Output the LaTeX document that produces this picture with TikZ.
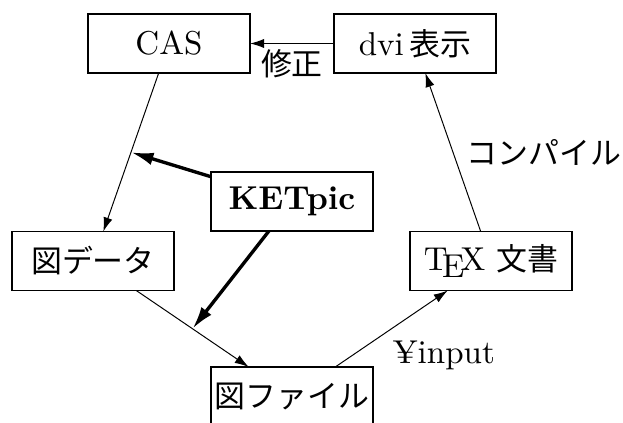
\documentclass[tikz,border=0pt]{standalone}
\usepackage{fontspec}
\setmainfont{lmroman10-regular}[Extension=.otf,BoldFont=lmroman10-bold,ItalicFont=lmroman10-italic]
\usepackage{tikz-network}
\usetikzlibrary{arrows.meta,calc}
\newfontfamily\cjk{Noto Sans CJK JP}[Scale=0.936]
\newcommand{\stagefont}{\fontsize{23.5}{28}\selectfont}
\tikzset{stage/.style={minimum width=4.05cm,minimum height=1.475cm}}

\begin{document}
\begin{tikzpicture}
				\useasboundingbox (-7.3,0) rectangle (8.275,-10.575);
				\SetVertexStyle[Shape=rectangle,MinSize=1.475cm,FillColor=white,LineWidth=0.8pt,TextFont=\stagefont]
				\SetEdgeStyle[Color=black,LineWidth=0.7pt,Arrow={-{Latex[length=10pt,width=6.5pt]}},TextFont=\stagefont,TextFillOpacity=0]
				\Vertex[x=-3.075,y=-1.0875,label=CAS,style={stage}]{CAS}
				\Vertex[x=3.075,y=-1.0875,label={dvi\,{\cjk 表示}},style={stage}]{DVI}
				\Vertex[x=0,y=-5.0375,label={\textbf{KETpic}},style={stage}]{KET}
				\Vertex[x=-4.975,y=-6.525,label={\cjk 図データ},style={stage}]{DATA}
				\Vertex[x=4.975,y=-6.525,label={\TeX\ {\cjk 文書}},style={stage}]{TEX}
				\Vertex[x=0,y=-9.9125,label={\cjk 図ファイル},style={stage}]{FILE}
				\coordinate (M1) at ($(CAS)!.5!(DATA)$);
				\coordinate (M2) at ($(DATA)!.5!(FILE)$);
				\Edge[Direct](CAS)(DATA)
				\Edge[Direct](DATA)(FILE)
				\Edge[Direct,label=¥input,position={below right={-8pt and 10pt}}](FILE)(TEX)
				\Edge[Direct,label={\cjk コンパイル},position={right=8pt}](TEX)(DVI)
				\Edge[Direct,label={\cjk 修正},position={below=-11pt}](DVI)(CAS)
				\Edge[style={line width=2.4pt,-{Latex[length=16pt,width=9pt]}}](KET)(M1)
				\Edge[style={line width=2.4pt,-{Latex[length=16pt,width=9pt]}}](KET)(M2)
			\end{tikzpicture}
\end{document}
